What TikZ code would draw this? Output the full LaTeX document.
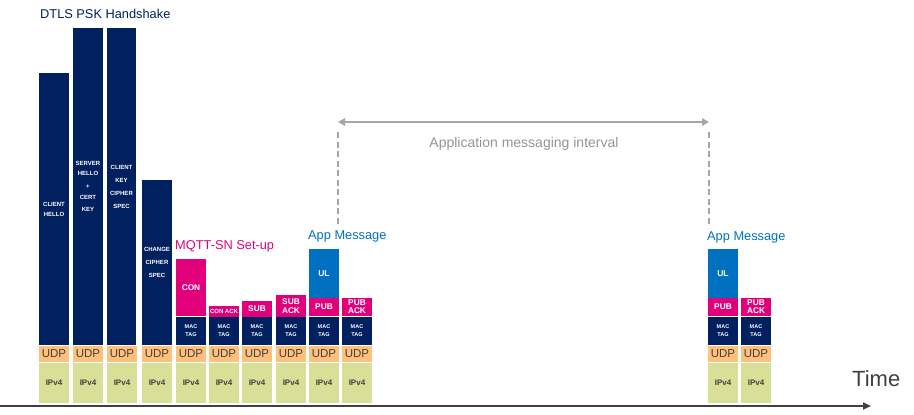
\documentclass[tikz,border=0pt]{standalone}
\usepackage{fontspec}
\setmainfont{Liberation Sans}
\usetikzlibrary{arrows.meta}
\definecolor{navy}{HTML}{002060}
\definecolor{mag}{HTML}{E2007A}
\definecolor{appblue}{HTML}{0070C0}
\definecolor{udpc}{HTML}{FFC07C}
\definecolor{ipc}{HTML}{D9DF96}
\definecolor{grayline}{HTML}{A6A6A6}
\definecolor{axisc}{HTML}{404040}
\definecolor{txtgray}{HTML}{404040}
\begin{document}
\begin{tikzpicture}[x=1pt,y=-1pt,
  blk/.style={rectangle, inner sep=0pt, outer sep=0pt, minimum width=30pt, anchor=north west, text=white, align=center},
  dtls/.style={blk, fill=navy, font=\bfseries\fontsize{6}{13}\selectfont},
  mac/.style={blk, fill=navy, minimum height=28pt, font=\bfseries\fontsize{5.5}{8}\selectfont},
  udp/.style={blk, fill=udpc, minimum height=16pt, text=txtgray, font=\fontsize{11.5}{12}\selectfont},
  ip/.style={blk, fill=ipc, minimum height=40pt, text=txtgray, font=\bfseries\fontsize{8}{9}\selectfont},
  pay/.style={blk, fill=mag, font=\bfseries\fontsize{8.3}{9}\selectfont},
  ulb/.style={blk, fill=appblue, font=\bfseries\fontsize{8.5}{9}\selectfont},
  ttl/.style={anchor=west, inner sep=0pt, font=\fontsize{12.8}{14}\selectfont}
]
\useasboundingbox (0,0) rectangle (914,415);

% lower layers
\foreach \i/\x in {1/39,2/73,3/107,4/142,5/176,6/209,7/242,8/276,9/309,10/342,11/708,12/741}{
  \node[udp] (u\i) at (\x,346) {UDP};
  \node[ip] (ip\i) at (\x,363) {IPv4};
}
\foreach \i/\x in {5/176,6/209,7/242,8/276,9/309,10/342,11/708,12/741}{
  \node[mac] (m\i) at (\x,317) {MAC\\TAG};
}

% DTLS handshake bars
\node[dtls, minimum height=272pt, font=\bfseries\fontsize{6}{10}\selectfont] (d1) at (39,73) {CLIENT\\HELLO};
\node[dtls, minimum height=317pt, font=\bfseries\fontsize{6}{10.5}\selectfont] (d2) at (73,28) {SERVER\\HELLO\\[2.5pt]+\\CERT\\[2pt]KEY};
\node[dtls, minimum height=317pt, minimum width=29pt] (d3) at (107,28) {CLIENT\\KEY\\CIPHER\\SPEC};
\node[dtls, minimum height=165pt] (d4) at (142,180) {CHANGE\\CIPHER\\SPEC};

% MQTT-SN payloads
\node[pay, minimum height=57pt] (con) at (176,259) {CON};
\node[pay, minimum height=11pt, font=\bfseries\fontsize{6}{7}\selectfont] (conack) at (209,306) {CON ACK};
\node[pay, minimum height=16pt] (sub) at (242,301) {SUB};
\node[pay, minimum height=22pt] (suback) at (276,295) {SUB\\ACK};
\node[ulb, minimum height=49pt] (ul1) at (309,249) {UL};
\node[pay, minimum height=18pt] (pub1) at (309,298) {PUB};
\node[pay, minimum height=18pt, font=\bfseries\fontsize{8.3}{8}\selectfont] (puback1) at (342,298) {PUB\\ACK};
\node[ulb, minimum height=49pt] (ul2) at (708,249) {UL};
\node[pay, minimum height=18pt] (pub2) at (708,298) {PUB};
\node[pay, minimum height=18pt, font=\bfseries\fontsize{8.3}{8}\selectfont] (puback2) at (741,298) {PUB\\ACK};

% titles
\node[ttl, text=navy] (tdtls) at (40,14) {DTLS PSK Handshake};
\node[ttl, text=mag] (tmqtt) at (175,246) {MQTT-SN Set-up};
\node[ttl, text=appblue] (tapp1) at (308,236) {App Message};
\node[ttl, text=appblue] (tapp2) at (707,237) {App Message};
\node[inner sep=0pt, text=grayline!90!black, font=\fontsize{14}{16}\selectfont] (tint) at (524,144) {Application messaging interval};
\node[anchor=west, inner sep=0pt, text=txtgray, font=\fontsize{22}{24}\selectfont] (ttime) at (852,379) {Time};

% interval arrow and dashed markers
\coordinate (iL) at (338,122);
\coordinate (iR) at (709,122);
\coordinate (dL1) at (338,132);
\coordinate (dL2) at (338,224);
\coordinate (dR1) at (709,132);
\coordinate (dR2) at (709,224);
\draw[grayline, line width=2.6pt, {Triangle[length=7pt,width=7.5pt]}-{Triangle[length=7pt,width=7.5pt]}] (iL) -- (iR);
\draw[grayline, line width=1.6pt, dash pattern=on 6pt off 3.5pt] (dL1) -- (dL2);
\draw[grayline, line width=1.6pt, dash pattern=on 6pt off 3.5pt] (dR1) -- (dR2);

% time axis
\coordinate (ax0) at (0,406);
\coordinate (ax1) at (871,406);
\draw[axisc, line width=2.2pt, -{Triangle[length=8pt,width=7pt]}] (ax0) -- (ax1);
\end{tikzpicture}
\end{document}
